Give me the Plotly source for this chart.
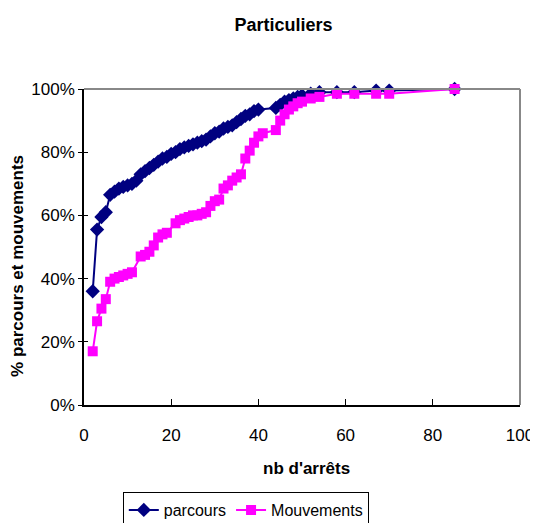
import plotly.graph_objects as go

# Data
parcours_x = [2, 3, 4, 5, 6, 7, 8, 9, 10, 11, 12, 13, 14, 15, 16, 17, 18, 19, 20, 21, 22, 23, 24, 25,
              26, 27, 28, 29, 30, 31, 32, 33, 34, 35, 36, 37, 38, 39, 40, 44, 45, 46, 47, 48, 49, 50,
              52, 54, 58, 62, 67, 70, 85]
parcours_y = [36, 55.5, 59.5, 61, 66.5, 67.5, 68.5, 69, 69.5, 70, 71, 73, 74, 75, 76, 77, 78, 78.5,
              79.5, 80, 81, 81.5, 82, 82.5, 83, 83.5, 84, 85, 86, 86.5, 87.5, 88, 88.5, 89.5, 90.5,
              91.5, 92, 93, 93.5, 94, 95, 96, 96.5, 97, 97.5, 98, 98.5, 99, 99, 99, 99.5, 99.5, 100]

mouv_x = [2, 3, 4, 5, 6, 7, 8, 9, 10, 11, 13, 14, 15, 16, 17, 18, 19, 21, 22, 23, 24, 25, 26, 27,
          28, 29, 30, 31, 32, 33, 34, 35, 36, 37, 38, 39, 40, 41, 44, 45, 46, 47, 48, 49, 50, 52,
          54, 58, 62, 67, 70, 85]
mouv_y = [17, 26.5, 30.5, 33.5, 39, 40, 40.5, 41, 41.5, 42, 47, 47.5, 48.5, 50.5, 53, 54, 54.5,
          57.5, 58.5, 59, 59.5, 60, 60, 60.5, 61, 63, 64.5, 65, 68.5, 69.5, 71, 72, 73, 78, 80.5,
          83, 85, 86, 87, 90, 92, 93.5, 94.5, 95.5, 96, 97, 97.5, 98.5, 98.5, 98.5, 98.5, 100]

x_ticks = [0, 20, 40, 60, 80, 100]
y_ticks = [0, 0.2, 0.4, 0.6, 0.8, 1.0]
y_tick_labels = ["0%", "20%", "40%", "60%", "80%", "100%"]

FONT = "Liberation Sans Narrow, Liberation Sans, Arial, sans-serif"

fig = go.Figure()
fig.add_trace(go.Scatter(
    x=parcours_x, y=[v / 100 for v in parcours_y], name="parcours",
    mode="lines+markers", line=dict(color="#000080", width=2),
    marker=dict(symbol="diamond", size=11, color="#000080"), cliponaxis=False))
fig.add_trace(go.Scatter(
    x=mouv_x, y=[v / 100 for v in mouv_y], name="Mouvements",
    mode="lines+markers", line=dict(color="#FF00FF", width=2),
    marker=dict(symbol="square", size=10, color="#FF00FF"), cliponaxis=False))

fig.update_layout(
    width=530, height=515,
    margin=dict(l=76, r=18, t=81, b=118, autoexpand=False),
    paper_bgcolor="white", plot_bgcolor="white",
    font=dict(family=FONT, size=17, color="black"),
    title=dict(text="<b>Particuliers</b>", x=0.52, xanchor="center",
               y=1 - 17 / 515, yanchor="middle", font=dict(size=18, family=FONT)),
    showlegend=True,
    legend=dict(orientation="h", x=0.089, xanchor="left", y=-87 / 316, yanchor="top",
                bordercolor="black", borderwidth=1, font=dict(size=16, family=FONT),
                itemwidth=30, tracegroupgap=0),
    xaxis=dict(range=[0, 100], tickvals=x_ticks, showgrid=False, zeroline=False,
               showline=True, linecolor="black", linewidth=1.5,
               ticks="inside", ticklen=6, tickcolor="black", ticklabelstandoff=14),
    yaxis=dict(range=[0, 1], tickvals=y_ticks, ticktext=y_tick_labels, showgrid=False,
               zeroline=False, showline=True, linecolor="black", linewidth=1.5,
               ticks="outside", ticklen=4, tickcolor="black"),
    yaxis2=dict(overlaying="y", matches="y", range=[0, 1], tickvals=y_ticks,
                showticklabels=False, showgrid=False, zeroline=False,
                ticks="inside", ticklen=4, tickcolor="black", side="left"),
    shapes=[
        dict(type="line", xref="paper", yref="paper", x0=0, x1=1, y0=1, y1=1,
             line=dict(color="#888888", width=2)),
        dict(type="line", xref="paper", yref="paper", x0=1, x1=1, y0=0, y1=1,
             line=dict(color="#888888", width=2)),
    ],
    annotations=[
        dict(text="<b>nb d'arrêts</b>", xref="paper", yref="paper", x=0.511, y=-63 / 316,
             xanchor="center", yanchor="middle", showarrow=False, font=dict(size=17)),
        dict(text="<b>% parcours et mouvements</b>", xref="paper", yref="paper",
             x=-66 / 436, y=0.44, xanchor="center", yanchor="middle", textangle=-90,
             showarrow=False, font=dict(size=17)),
    ],
)
# dummy trace on yaxis2 to activate it
fig.add_trace(go.Scatter(x=[None], y=[None], yaxis="y2", showlegend=False, hoverinfo="skip"))

fig.write_html("out.html")
